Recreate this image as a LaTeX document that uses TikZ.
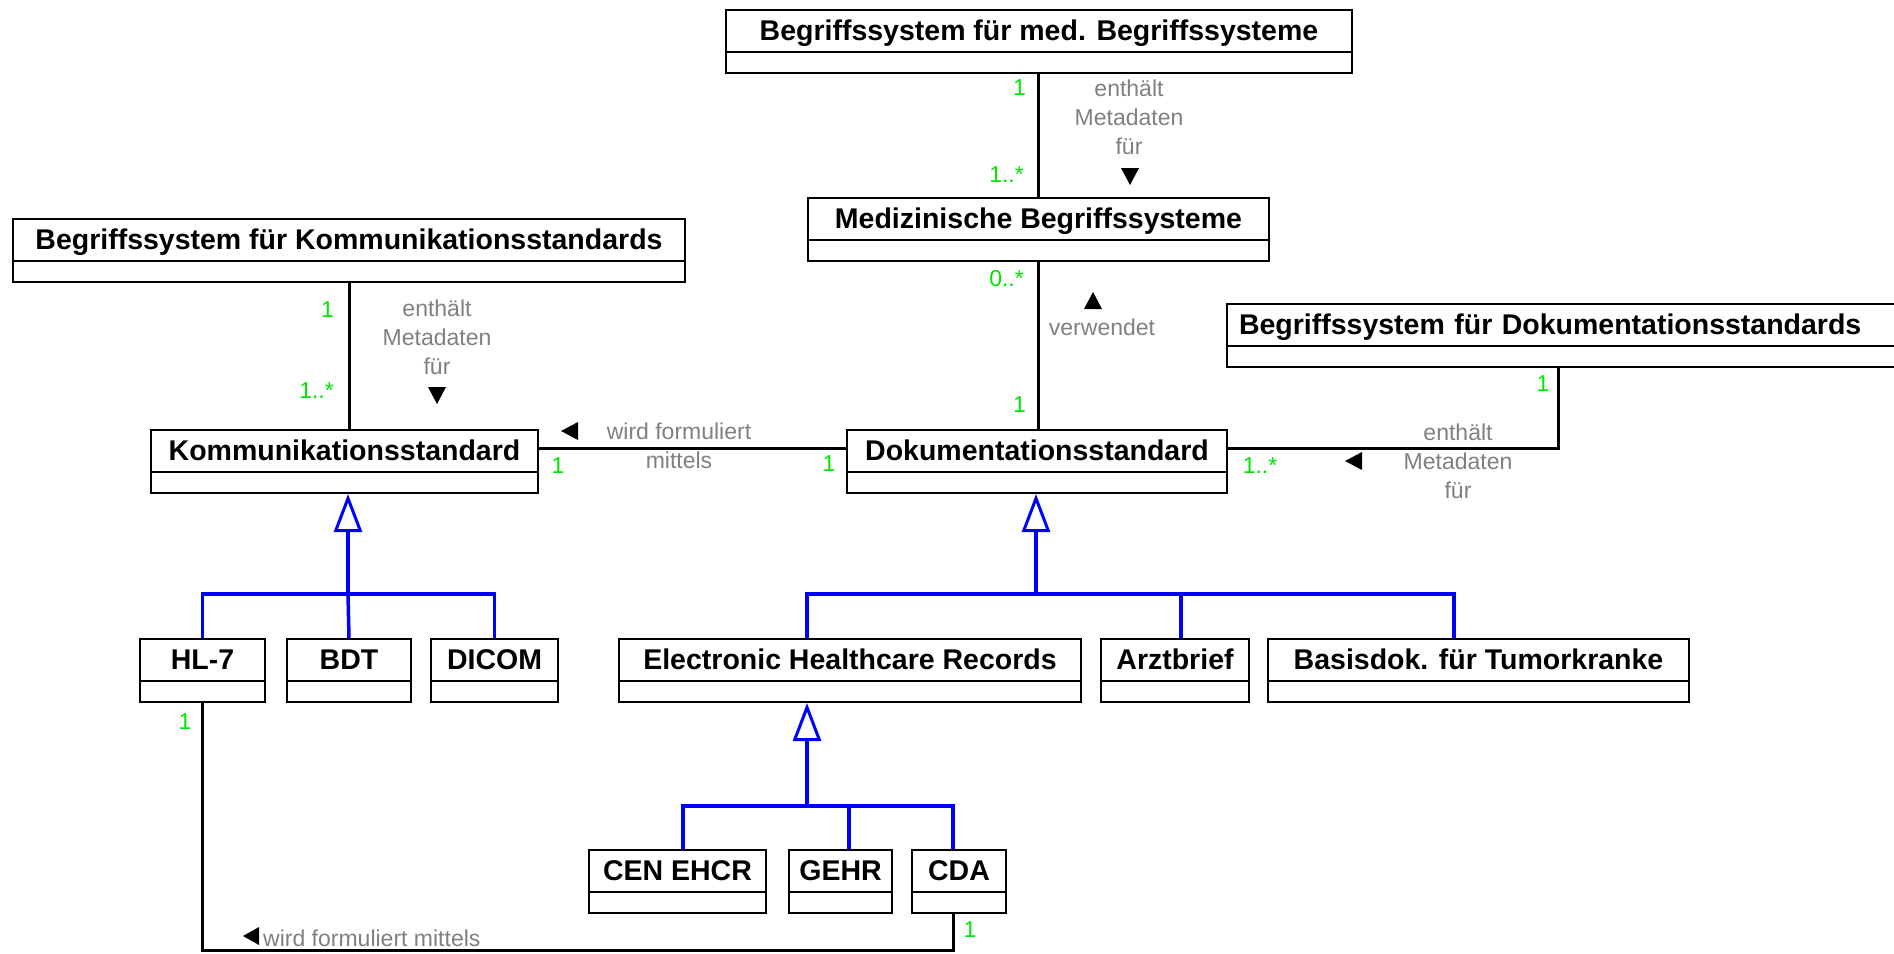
\documentclass[tikz,border=0pt]{standalone}
\usepackage{fontspec}
\setmainfont{Liberation Sans}
\usepackage{tikz}
\usetikzlibrary{arrows.meta, calc}
\definecolor{multgreen}{RGB}{0,230,0}
\definecolor{lblgray}{RGB}{128,128,128}
\definecolor{genblue}{RGB}{0,0,255}
\tikzset{
  cls/.style={draw, line width=2pt, anchor=north west, inner sep=0pt,
    text height=30pt, text depth=33pt,
    font=\bfseries\fontsize{28.5}{30}\selectfont,
    path picture={\draw[line width=2pt] ([yshift=21pt]path picture bounding box.south west) -- ([yshift=21pt]path picture bounding box.south east);}},
  assoc/.style={line width=3pt},
  genl/.style={draw=genblue, line width=3.5pt},
  gentip/.style={genl, -{Triangle[open, fill=white, length=38pt, width=28pt, line width=3pt]}},
  lbl/.style={text=lblgray, font=\fontsize{23}{29}\selectfont, align=center, inner sep=0pt},
  mult/.style={text=multgreen, font=\fontsize{23}{29}\selectfont, inner sep=0pt},
}

\begin{document}
\begin{tikzpicture}[x=1pt, y=-1pt]
  \useasboundingbox (0,0) rectangle (1894,953);
  % classes
  \node[cls, minimum width=626pt] (bmed) at (725,9) {Begriffssystem für med. Begriffssysteme};
  \node[cls, minimum width=461pt] (med) at (807,197) {Medizinische Begriffssysteme};
  \node[cls, minimum width=672pt] (bkomm) at (12,218) {Begriffssystem für Kommunikationsstandards};
  \node[cls, minimum width=387pt] (komm) at (150,429) {Kommunikationsstandard};
  \node[cls, minimum width=380pt] (dok) at (846,429) {Dokumentationsstandard};
  \node[cls, text width=676pt, inner xsep=12pt, align=left] (bdok) at (1226,303) {Begriffssystem für Dokumentationsstandards};

  \node[cls, minimum width=125pt] (hl7) at (139,638) {HL-7};
  \node[cls, minimum width=124pt] (bdt) at (286,638) {BDT};
  \node[cls, minimum width=127pt] (dicom) at (430,638) {DICOM};
  \node[cls, minimum width=462pt] (ehr) at (618,638) {Electronic Healthcare Records};
  \node[cls, minimum width=148pt] (arzt) at (1100,638) {Arztbrief};
  \node[cls, minimum width=421pt] (basis) at (1267,638) {Basisdok. für Tumorkranke};

  \node[cls, minimum width=177pt] (cen) at (588,849) {CEN EHCR};
  \node[cls, minimum width=103pt] (gehr) at (788,849) {GEHR};
  \node[cls, minimum width=94pt] (cda) at (911,849) {CDA};

  % associations
  \draw[assoc] (med.north) -- (med.north |- bmed.south);
  \draw[assoc] (med.south) -- (med.south |- dok.north);
  \draw[assoc] (bkomm.south) -- (bkomm.south |- komm.north);
  \coordinate (kd) at ($(komm.north east)+(0,19)$);
  \draw[assoc] (kd) -- (kd -| dok.west);
  \coordinate (dd) at ($(dok.north east)+(0,19)$);
  \draw[assoc] (dd) -| ($(bdok.south west)+(332,0)$);
  \coordinate (hbot) at (0,950);
  \draw[assoc] (hl7.south) -- (hl7.south |- hbot) -| ([xshift=42pt]cda.south west);

  % generalizations
  \coordinate (kbus) at (348,594);
  \draw[gentip] (kbus) -- (kbus |- komm.south);
  \draw[genl] (hl7.north) |- (kbus) -| (dicom.north);
  \draw[genl] (bdt.north) -- (kbus);

  \coordinate (dbus) at (1036,594);
  \draw[gentip] (dbus) -- (dbus |- dok.south);
  \draw[genl] ([xshift=189pt]ehr.north west) |- (dbus) -| ([xshift=187pt]basis.north west);
  \draw[genl] ([xshift=81pt]arzt.north west) |- (dbus);

  \coordinate (ebus) at (807,806);
  \draw[gentip] (ebus) -- (ebus |- ehr.south);
  \draw[genl] ([xshift=95pt]cen.north west) |- (ebus) -| ([xshift=42pt]cda.north west);
  \draw[genl] ([xshift=61pt]gehr.north west) |- (ebus);

  % labels
  \node[lbl] (lmed) at (1129,117) {enthält\\Metadaten\\für};
  \fill (1121,168) -- ++(18,0) -- ++(-9,17) -- cycle;
  \node[mult, anchor=east] (mmed1) at (1026,88) {1};
  \node[mult, anchor=east] (mmed2) at (1024,175) {1..*};

  \node[mult, anchor=east] (mverw1) at (1024,279) {0..*};
  \fill (1084,309) -- ++(18,0) -- ++(-9,-17) -- cycle;
  \node[lbl] (lverw) at (1102,327) {verwendet};
  \node[mult, anchor=east] (mverw2) at (1026,405) {1};

  \node[lbl] (lkomm) at (437,337) {enthält\\Metadaten\\für};
  \fill (428,387) -- ++(18,0) -- ++(-9,17) -- cycle;
  \node[mult, anchor=east] (mkomm1) at (334,310) {1};
  \node[mult, anchor=east] (mkomm2) at (334,391) {1..*};

  \fill (578,422) -- ++(0,18) -- ++(-17,-9) -- cycle;
  \node[lbl] (lform) at (679,446) {wird formuliert\\mittels};
  \node[mult] (mform1) at (558,466) {1};
  \node[mult] (mform2) at (829,464) {1};

  \node[lbl] (ldok) at (1458,461) {enthält\\Metadaten\\für};
  \fill (1362,452) -- ++(0,18) -- ++(-17,-9) -- cycle;
  \node[mult] (mdok1) at (1543,384) {1};
  \node[mult] (mdok2) at (1260,466) {1..*};

  \node[mult] (mhl7) at (185,722) {1};
  \node[mult] (mcda) at (970,930) {1};
  \fill (259,927) -- ++(0,18) -- ++(-16,-9) -- cycle;
  \node[lbl, anchor=west] (lhl7) at (263,938) {wird formuliert mittels};
\end{tikzpicture}
\end{document}
